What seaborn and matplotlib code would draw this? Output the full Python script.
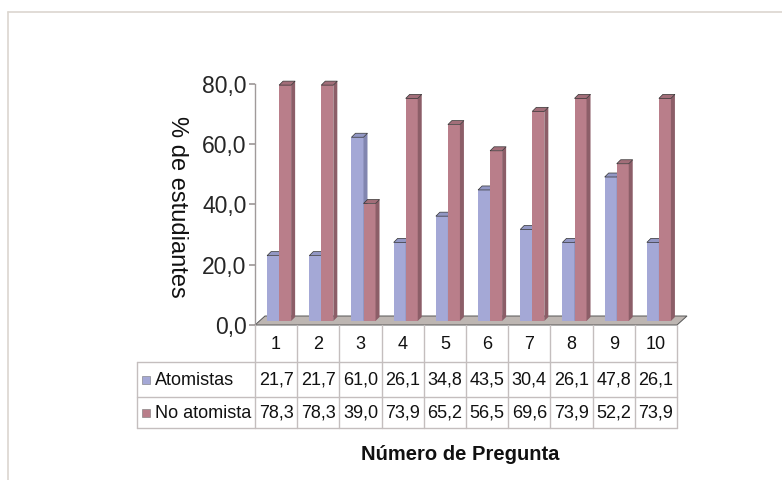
import numpy as np
import pandas as pd
import matplotlib
matplotlib.use("Agg")
import matplotlib.pyplot as plt
import matplotlib.transforms as mtransforms
from matplotlib import font_manager
from matplotlib.patches import Polygon, Rectangle
from matplotlib.lines import Line2D
import seaborn as sns

preguntas = ['1', '2', '3', '4', '5', '6', '7', '8', '9', '10']
atomistas = [21.7, 21.7, 61.0, 26.1, 34.8, 43.5, 30.4, 26.1, 47.8, 26.1]
no_atomista = [78.3, 78.3, 39.0, 73.9, 65.2, 56.5, 69.6, 73.9, 52.2, 73.9]
series = ['Atomistas', 'No atomista']
y_ticks = [0, 20, 40, 60, 80]

df = pd.DataFrame({
    'pregunta': preguntas * 2,
    'pct': atomistas + no_atomista,
    'serie': [series[0]] * len(preguntas) + [series[1]] * len(preguntas),
})

front = ['#a4a8d6', '#b97e8a']
side = ['#8286b0', '#8c5e68']
top = ['#9297c4', '#a26e79']

sns.set_theme(style='white')
plt.rcParams['font.family'] = ['Liberation Sans', 'DejaVu Sans']
names = {f.name for f in font_manager.fontManager.ttflist}
narrow = 'Liberation Sans Narrow' if 'Liberation Sans Narrow' in names else 'Liberation Sans'
tsize = 15 if narrow == 'Liberation Sans Narrow' else 13

W, H = 782, 480
fig = plt.figure(figsize=(W / 100, H / 100), dpi=100)
fig.patch.set_facecolor('white')

# plot area in pixel layout
x0, x1, y_zero, y_top = 255, 677, 325, 84
ax = fig.add_axes([x0 / W, 1 - y_zero / H, (x1 - x0) / W, (y_zero - y_top) / H])
ax.set_xlim(-0.5, 9.5)
ax.set_ylim(0, 80)
ax.patch.set_alpha(0)

sns.barplot(data=df, x='pregunta', y='pct', hue='serie', palette=front,
            width=0.57, saturation=1, errorbar=None, legend=False, ax=ax,
            edgecolor='none', linewidth=0)

px_x = (x1 - x0) / 10.0          # pixels per category
px_y = (y_zero - y_top) / 80.0   # pixels per unit
shift = mtransforms.offset_copy(ax.transData, fig=fig, x=3, y=4, units='dots')
ddx, ddy = 4 / px_x, 4 / px_y

# floor
fdx, fdy = 10 / px_x, 9 / px_y
floor = Polygon([(-0.5, 0), (9.5, 0), (9.5 + fdx, fdy), (-0.5 + fdx, fdy)],
                closed=True, facecolor='#bdb6b2', edgecolor='#555555', lw=0.7,
                zorder=1, clip_on=False)
ax.add_patch(floor)

bars = [p for p in ax.patches if isinstance(p, Rectangle)]
n = len(preguntas)
for i, p in enumerate(bars):
    s = i // n
    z = 2 + s * 0.5
    p.set_transform(shift)
    p.set_zorder(z)
    p.set_clip_on(False)
    bx, bw, bh = p.get_x(), p.get_width(), p.get_height()
    sidep = Polygon([(bx + bw, 0), (bx + bw + ddx, ddy), (bx + bw + ddx, bh + ddy), (bx + bw, bh)],
                    closed=True, facecolor=side[s], edgecolor='none', transform=shift,
                    zorder=z + 0.1, clip_on=False)
    topp = Polygon([(bx, bh), (bx + ddx, bh + ddy), (bx + bw + ddx, bh + ddy), (bx + bw, bh)],
                   closed=True, facecolor=top[s], edgecolor='#333333', lw=0.5, transform=shift,
                   zorder=z + 0.2, clip_on=False)
    ax.add_patch(sidep)
    ax.add_patch(topp)

for sp in ['top', 'right', 'bottom']:
    ax.spines[sp].set_visible(False)
ax.spines['left'].set_color('#a09a9a')
ax.spines['left'].set_linewidth(1)
ax.set_yticks(y_ticks)
ax.set_yticklabels([f"{t:.1f}".replace('.', ',') for t in y_ticks], fontsize=16.5)
ax.tick_params(axis='y', left=True, length=4, color='#a09a9a', pad=2)
ax.set_xticks([])
ax.set_xlabel('')
ax.set_ylabel('')

# data table
lab_left = 137
rows = [325, 362, 397, 428]
tab = fig.add_axes([lab_left / W, 1 - rows[-1] / H, (x1 - lab_left) / W, (rows[-1] - rows[0]) / H])
left_cat = -0.5 - (x0 - lab_left) / px_x
tab.set_xlim(left_cat, 9.5)
tab.set_ylim(rows[-1], rows[0])
tab.axis('off')
lc = '#c4bebe'
for k in range(11):
    tab.plot([k - 0.5, k - 0.5], [rows[0], rows[-1]], color=lc, lw=1, clip_on=False)
tab.plot([left_cat, left_cat], [rows[1], rows[-1]], color=lc, lw=1, clip_on=False)
for r in rows[1:]:
    tab.plot([left_cat, 9.5], [r, r], color=lc, lw=1, clip_on=False)

for k, q in enumerate(preguntas):
    tab.text(k, (rows[0] + rows[1]) / 2 + 1, q, ha='center', va='center',
             fontsize=tsize, family=narrow, color='#111111')
for s, vals in enumerate([atomistas, no_atomista]):
    yc = (rows[s + 1] + rows[s + 2]) / 2 + 1
    for k, v in enumerate(vals):
        tab.text(k, yc, f"{v:.1f}".replace('.', ','), ha='center', va='center',
                 fontsize=tsize, family=narrow, color='#111111')
    kx = left_cat + 5 / px_x
    tab.add_patch(Rectangle((kx, yc - 4), 8 / px_x, 8, facecolor=front[s],
                            edgecolor='#777777', lw=0.4))
    tab.text(left_cat + 18 / px_x, yc, series[s], ha='left', va='center',
             fontsize=tsize, family=narrow, color='#111111')

fig.text(177 / W, 1 - 207 / H, '% de estudiantes', rotation=270, ha='center', va='center',
         fontsize=17, color='#111111')
fig.text(460 / W, 1 - 455 / H, 'Número de Pregunta', ha='center', va='center',
         fontsize=14.5, fontweight='bold', color='#111111')

# chart border (top and left edges visible)
fig.add_artist(Line2D([8 / W, 8 / W], [0, 1 - 12 / H], color='#dcd6d0', lw=1.2))
fig.add_artist(Line2D([8 / W, 1], [1 - 12 / H, 1 - 12 / H], color='#dcd6d0', lw=1.2))

fig.savefig('out.png', dpi=100, facecolor='white')
